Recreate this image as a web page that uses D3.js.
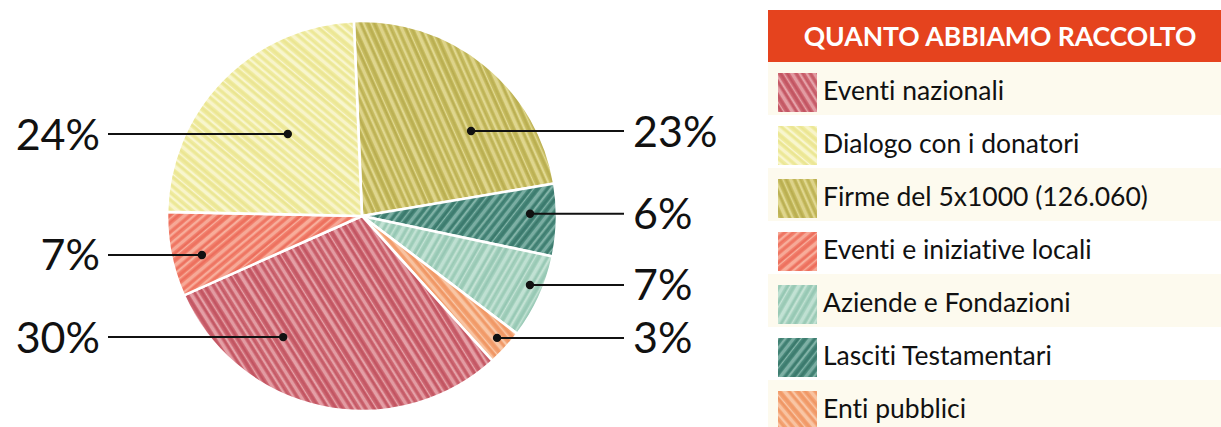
<!DOCTYPE html>
<html>
<head>
<meta charset="utf-8">
<script src="https://cdn.jsdelivr.net/npm/d3@7/dist/d3.min.js"></script>
<style>
  html, body { margin: 0; padding: 0; background: #ffffff; }
  svg { display: block; font-family: Lato, "Open Sans", sans-serif; font-variant-ligatures: none; }
</style>
</head>
<body>
<svg id="chart" width="1221" height="427"></svg>
<script>
// Fund-raising sources (percent of total), legend order
const categories = [
  "Eventi nazionali",
  "Dialogo con i donatori",
  "Firme del 5x1000 (126.060)",
  "Eventi e iniziative locali",
  "Aziende e Fondazioni",
  "Lasciti Testamentari",
  "Enti pubblici"
];
const values = [30, 24, 23, 7, 7, 6, 3];
const percentLabels = ["30%", "24%", "23%", "7%", "7%", "6%", "3%"];

// Order of the slices clockwise from the top of the pie
const sliceOrder = [
  "Firme del 5x1000 (126.060)",
  "Lasciti Testamentari",
  "Aziende e Fondazioni",
  "Enti pubblici",
  "Eventi nazionali",
  "Eventi e iniziative locali",
  "Dialogo con i donatori"
];

const title = "QUANTO ABBIAMO RACCOLTO";

// Pencil-shading palette: base, dark stroke, light stroke, stroke angle
const shading = {
  "Eventi nazionali":           { base: "#cf6a74", dark: "#b84454", light: "#eab0b6", angle: -32 },
  "Dialogo con i donatori":     { base: "#f0eca2", dark: "#e6e086", light: "#fbf9dc", angle: -50 },
  "Firme del 5x1000 (126.060)": { base: "#c8bd62", dark: "#aea344", light: "#e6de9c", angle: -24 },
  "Eventi e iniziative locali": { base: "#f2826f", dark: "#e8604e", light: "#f9baa8", angle: 50 },
  "Aziende e Fondazioni":       { base: "#a6d2bf", dark: "#8bbfaa", light: "#cbe6da", angle: 30 },
  "Lasciti Testamentari":       { base: "#4a8a7c", dark: "#2f6c60", light: "#8fbcb2", angle: 38 },
  "Enti pubblici":              { base: "#f4a677", dark: "#ec8c58", light: "#fad0b4", angle: -40 }
};

// Callout anchor inside each slice: fraction along the slice angle, fraction of radius
const calloutAnchor = {
  "Dialogo con i donatori":     { t: 0.54, r: 0.567 },
  "Firme del 5x1000 (126.060)": { t: 0.658, r: 0.709 },
  "Lasciti Testamentari":       { t: 0.41, r: 0.862 },
  "Aziende e Fondazioni":       { t: 0.41, r: 0.931 },
  "Enti pubblici":              { t: 0.45, r: 0.933 },
  "Eventi nazionali":           { t: 0.695, r: 0.741 },
  "Eventi e iniziative locali": { t: 0.41, r: 0.845 }
};

const svg = d3.select("#chart");
const defs = svg.append("defs");

// Fixed stroke layout of one shading tile (x offset, width, tone, opacity)
const strokes = [
  [1, 2.2, "light", 0.8], [4.5, 1.2, "dark", 0.6], [7, 3.0, "light", 0.7], [11.5, 1.6, "dark", 0.7],
  [14, 1.0, "light", 0.9], [16.5, 2.4, "dark", 0.5], [20, 3.4, "light", 0.75], [24.5, 1.3, "dark", 0.7],
  [27, 1.8, "light", 0.9], [30.5, 2.6, "dark", 0.55], [34, 1.2, "light", 0.8], [36.5, 2.0, "dark", 0.65],
  [40, 3.2, "light", 0.7], [44.5, 1.1, "dark", 0.7], [47, 1.8, "light", 0.85], [50, 1.4, "dark", 0.5]
];
const tileW = 52;

const blur = defs.append("filter").attr("id", "soft")
  .attr("x", "-5%").attr("y", "-5%").attr("width", "110%").attr("height", "110%");
blur.append("feGaussianBlur").attr("stdDeviation", 0.7);

categories.forEach((c, i) => {
  const s = shading[c];
  const p = defs.append("pattern")
    .attr("id", "shade" + i)
    .attr("patternUnits", "userSpaceOnUse")
    .attr("width", tileW).attr("height", 60)
    .attr("patternTransform", `rotate(${s.angle})`);
  p.append("rect").attr("width", tileW).attr("height", 60).attr("fill", s.base);
  strokes.forEach(([x, w, tone, op]) => {
    p.append("rect")
      .attr("x", x).attr("y", 0).attr("width", w).attr("height", 60)
      .attr("fill", tone === "light" ? s.light : s.dark)
      .attr("opacity", op);
  });
});

// ---------- Pie ----------
const cx = 362, cy = 216, R = 195;
const start = -2.4 * Math.PI / 180;

const pieData = sliceOrder.map(name => ({ name, value: values[categories.indexOf(name)] }));
const pie = d3.pie().sort(null).value(d => d.value)
  .startAngle(start).endAngle(start + 2 * Math.PI);
const arcs = pie(pieData);
const arc = d3.arc().innerRadius(0).outerRadius(R);

const g = svg.append("g").attr("transform", `translate(${cx},${cy})`);

g.append("g").attr("filter", "url(#soft)")
  .selectAll("path")
  .data(arcs)
  .join("path")
  .attr("d", arc)
  .attr("fill", d => `url(#shade${categories.indexOf(d.data.name)})`)
  .attr("stroke", "#ffffff")
  .attr("stroke-width", 2.6)
  .attr("stroke-linejoin", "round");

// ---------- Callouts ----------
const lineLeftX = 108, lineRightX = 624;
const textLeftX = 100, textRightX = 633;

arcs.forEach(d => {
  const a = calloutAnchor[d.data.name];
  const ang = d.startAngle + a.t * (d.endAngle - d.startAngle);
  const rr = a.r * R;
  const px = cx + rr * Math.sin(ang);
  const py = cy - rr * Math.cos(ang);
  const right = px > cx;
  const label = percentLabels[categories.indexOf(d.data.name)];

  svg.append("line")
    .attr("x1", px).attr("y1", py)
    .attr("x2", right ? lineRightX : lineLeftX).attr("y2", py)
    .attr("stroke", "#111111").attr("stroke-width", 2);
  svg.append("circle")
    .attr("cx", px).attr("cy", py).attr("r", 4.2).attr("fill", "#111111");
  svg.append("text")
    .attr("x", right ? textRightX : textLeftX)
    .attr("y", py + 15.5)
    .attr("text-anchor", right ? "start" : "end")
    .attr("font-size", 43)
    .attr("fill", "#111111")
    .text(label);
});

// ---------- Legend ----------
const legX = 768, legW = 1221 - 768;
const headerTop = 10, headerH = 52;
const rowH = 53;

const legend = svg.append("g");
legend.append("rect")
  .attr("x", legX).attr("y", headerTop).attr("width", legW).attr("height", headerH)
  .attr("fill", "#e5431e");
legend.append("text")
  .attr("x", 1000).attr("y", headerTop + 36)
  .attr("text-anchor", "middle")
  .attr("font-size", 26.5).attr("font-weight", 700)
  .attr("fill", "#ffffff")
  .text(title);

const rowY = d3.scaleBand()
  .domain(categories)
  .range([headerTop + headerH, headerTop + headerH + rowH * categories.length]);

const rows = legend.selectAll("g.row")
  .data(categories)
  .join("g")
  .attr("class", "row")
  .attr("transform", c => `translate(0,${rowY(c)})`);

rows.append("rect")
  .attr("x", legX).attr("y", 0).attr("width", legW).attr("height", rowY.bandwidth())
  .attr("fill", (c, i) => i % 2 === 0 ? "#fdfaee" : "#ffffff");

rows.append("rect")
  .attr("x", 778).attr("y", 11).attr("width", 39).attr("height", 39)
  .attr("fill", (c, i) => `url(#shade${i})`)
  .attr("filter", "url(#soft)");

rows.append("text")
  .attr("x", 823).attr("y", 38)
  .attr("font-size", 26.5)
  .attr("fill", "#111111")
  .text(c => c);
</script>
</body>
</html>
